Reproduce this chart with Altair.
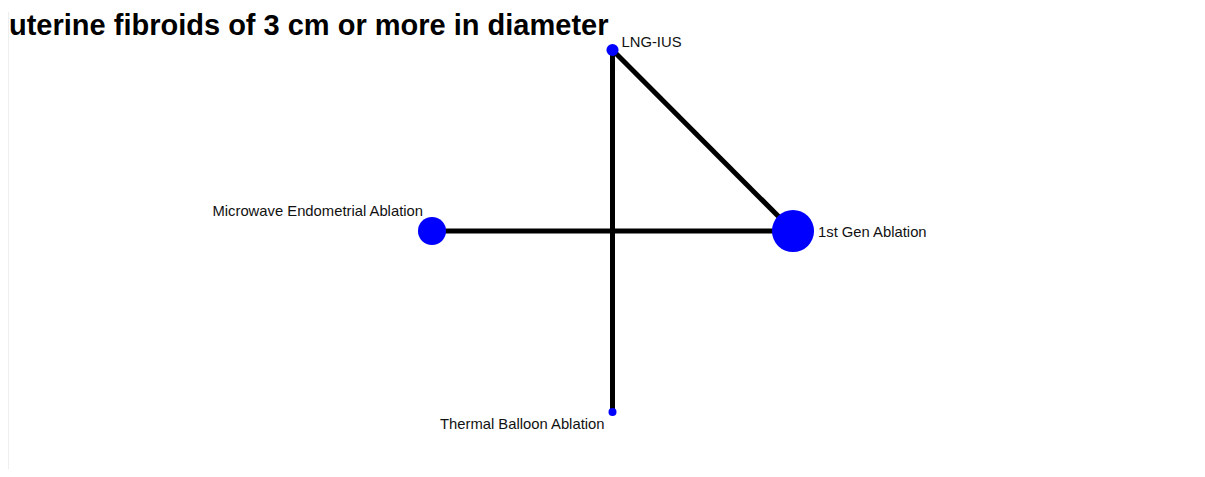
import math
import altair as alt
import pandas as pd

# ---- data ----
TITLE = "uterine fibroids of 3 cm or more in diameter"
NODES = ["LNG-IUS", "1st Gen Ablation", "Thermal Balloon Ablation",
         "Microwave Endometrial Ablation"]
NODE_WEIGHT = [2.3, 27.7, 1.0, 12.3]
EDGE_FROM = ["LNG-IUS", "LNG-IUS", "Microwave Endometrial Ablation"]
EDGE_TO = ["Thermal Balloon Ablation", "1st Gen Ablation", "1st Gen Ablation"]

# circular layout (clockwise from top)
n = len(NODES)
pos = {}
for i, name in enumerate(NODES):
    a = math.pi / 2 - i * 2 * math.pi / n
    pos[name] = (round(math.cos(a), 6), round(math.sin(a), 6))

nodes = pd.DataFrame({
    "name": NODES,
    "weight": NODE_WEIGHT,
    "lx": [pos[k][0] for k in NODES],
    "ly": [pos[k][1] for k in NODES],
})
edges = pd.DataFrame({
    "src": EDGE_FROM,
    "dst": EDGE_TO,
    "x": [pos[k][0] for k in EDGE_FROM],
    "y": [pos[k][1] for k in EDGE_FROM],
    "x2": [pos[k][0] for k in EDGE_TO],
    "y2": [pos[k][1] for k in EDGE_TO],
})

W, H = 1189, 461
xs = alt.Scale(domain=[-1, 1], range=[424, 785])
ys = alt.Scale(domain=[-1, 1], range=[404, 42])
FONT = "Liberation Sans"

border = alt.Chart(pd.DataFrame({"a": [0]})).mark_rule(
    color="#eeeeee", strokeWidth=1
).encode(x=alt.value(0.5), y=alt.value(4), y2=alt.value(H))

title = alt.Chart(pd.DataFrame({"t": [TITLE]})).mark_text(
    align="left", baseline="alphabetic", fontSize=29, fontWeight="bold",
    font=FONT, color="black"
).encode(x=alt.value(1), y=alt.value(27), text="t:N")

edge_layer = alt.Chart(edges).mark_rule(
    color="black", strokeWidth=5
).encode(
    x=alt.X("x:Q", scale=xs, axis=None),
    y=alt.Y("y:Q", scale=ys, axis=None),
    x2="x2:Q", y2="y2:Q",
)

node_layer = alt.Chart(nodes).mark_circle(
    color="#0000ff", opacity=1
).encode(
    x=alt.X("lx:Q", scale=xs, axis=None),
    y=alt.Y("ly:Q", scale=ys, axis=None),
    size=alt.Size("weight:Q", scale=alt.Scale(domain=[0, 30], range=[0, 1920]),
                  legend=None),
)

label_style = {
    "LNG-IUS": dict(align="left", dx=9, dy=-3),
    "1st Gen Ablation": dict(align="left", dx=25, dy=6),
    "Thermal Balloon Ablation": dict(align="right", dx=-8, dy=17),
    "Microwave Endometrial Ablation": dict(align="right", dx=-9, dy=-15),
}
label_layers = []
for name, st in label_style.items():
    label_layers.append(
        alt.Chart(nodes).transform_filter(alt.datum.name == name).mark_text(
            baseline="alphabetic", fontSize=14.8, font=FONT, color="#111111", **st
        ).encode(
            x=alt.X("lx:Q", scale=xs, axis=None),
            y=alt.Y("ly:Q", scale=ys, axis=None),
            text="name:N",
        )
    )

chart = alt.layer(border, title, edge_layer, node_layer, *label_layers).properties(
    width=W, height=H,
    autosize=alt.AutoSizeParams(type="none"),
    padding=0,
    background="white",
).configure_view(stroke=None)

chart.save("out.html", embed_options={"renderer": "svg", "actions": False})
